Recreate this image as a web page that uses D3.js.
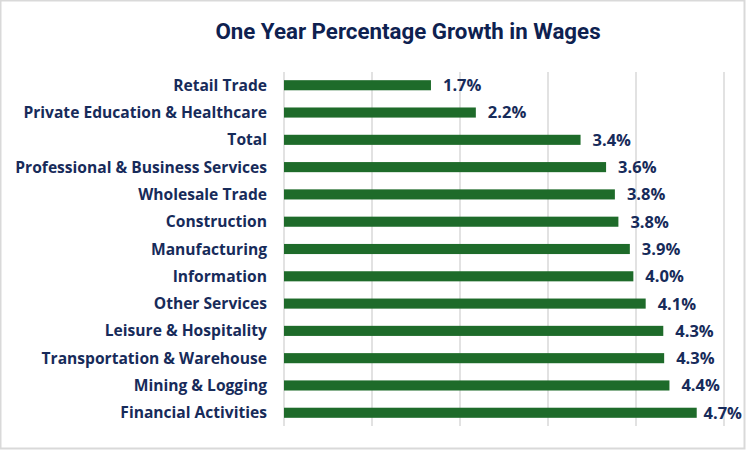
<!DOCTYPE html>
<html>
<head>
<meta charset="utf-8">
<script src="https://cdn.jsdelivr.net/npm/d3@7"></script>
<style>
  body { margin: 0; background: #fff; }
  svg { display: block; }
</style>
</head>
<body>
<div id="chart"></div>
<script>
// -------- Data --------
const categories = [
  "Retail Trade", "Private Education & Healthcare", "Total",
  "Professional & Business Services", "Wholesale Trade", "Construction",
  "Manufacturing", "Information", "Other Services", "Leisure & Hospitality",
  "Transportation & Warehouse", "Mining & Logging", "Financial Activities"
];
const growth = [1.67, 2.18, 3.37, 3.66, 3.76, 3.8, 3.93, 3.97, 4.11, 4.31, 4.32, 4.38, 4.69];
const growthLabels = ["1.7%", "2.2%", "3.4%", "3.6%", "3.8%", "3.8%", "3.9%", "4.0%", "4.1%", "4.3%", "4.3%", "4.4%", "4.7%"];
const gridTicks = [0, 1, 2, 3, 4, 5];

const rows = categories.map((c, i) => ({ cat: c, v: growth[i], label: growthLabels[i] }));

// -------- Chart --------
const W = 748, H = 451;
const margin = { top: 72, right: 24, bottom: 25, left: 284 };
const width = W - margin.left - margin.right;
const height = H - margin.top - margin.bottom;

const svg = d3.select("#chart").append("svg")
  .attr("width", W)
  .attr("height", H);

// outer frame
svg.append("rect")
  .attr("x", 0.5).attr("y", 0.5)
  .attr("width", W - 4).attr("height", H - 3)
  .attr("fill", "#fff")
  .attr("stroke", "#d9d9d9")
  .attr("stroke-width", 2);

svg.append("text")
  .attr("x", 408)
  .attr("y", 39)
  .attr("text-anchor", "middle")
  .attr("font-family", "Roboto, sans-serif")
  .attr("font-weight", 700)
  .attr("font-size", 22.3)
  .attr("fill", "#0e2150")
  .text("One Year Percentage Growth in Wages");

const g = svg.append("g")
  .attr("transform", `translate(${margin.left},${margin.top})`);

const x = d3.scaleLinear()
  .domain([0, 5])
  .range([0, width]);

const y = d3.scaleBand()
  .domain(categories)
  .range([0, height])
  .paddingInner(0.63)
  .paddingOuter(0.3);

// vertical gridlines
g.append("g")
  .selectAll("line")
  .data(gridTicks)
  .join("line")
  .attr("x1", d => x(d)).attr("x2", d => x(d))
  .attr("y1", 0).attr("y2", height)
  .attr("stroke", "#d9d9d9")
  .attr("stroke-width", 1.5);

// bars
g.selectAll("rect.bar")
  .data(rows)
  .join("rect")
  .attr("class", "bar")
  .attr("x", 0)
  .attr("y", d => y(d.cat))
  .attr("width", d => x(d.v))
  .attr("height", y.bandwidth())
  .attr("fill", "#1e6b2a");

// value labels (pushed left when they would run off the frame)
const maxRight = W - margin.left - 6;
g.selectAll("text.val")
  .data(rows)
  .join("text")
  .attr("class", "val")
  .attr("y", d => y(d.cat) + y.bandwidth() / 2)
  .attr("dy", "0.36em")
  .attr("font-family", "'Open Sans', sans-serif")
  .attr("font-weight", 700)
  .attr("font-size", 16.5)
  .attr("fill", "#172b5a")
  .text(d => d.label)
  .attr("x", function (d) {
    const w = this.getComputedTextLength();
    return Math.min(x(d.v) + 12, maxRight - w);
  });

// category labels
g.selectAll("text.cat")
  .data(rows)
  .join("text")
  .attr("class", "cat")
  .attr("x", -17)
  .attr("y", d => y(d.cat) + y.bandwidth() / 2)
  .attr("dy", "0.36em")
  .attr("text-anchor", "end")
  .attr("font-family", "'Open Sans', sans-serif")
  .attr("font-weight", 700)
  .attr("font-size", 15.6)
  .attr("fill", "#172b5a")
  .text(d => d.cat);
</script>
</body>
</html>
